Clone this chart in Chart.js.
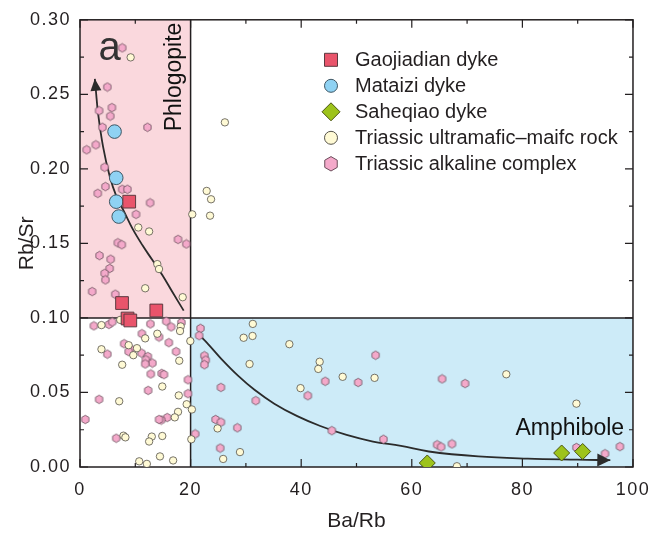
<!DOCTYPE html>
<html>
<head>
<meta charset="utf-8">
<script src="https://cdn.jsdelivr.net/npm/chart.js@4.4.1/dist/chart.umd.min.js"></script>
<style>
  html, body { margin: 0; padding: 0; background: #fff; }
</style>
</head>
<body>
<canvas id="chart" width="660" height="543"></canvas>
<script>
'use strict';

// ── Data (Ba/Rb, Rb/Sr) ──────────────────────────────────────────────────
const GAOJIADIAN = [[8.9,0.178],[7.6,0.110],[13.8,0.105],[8.6,0.0996],[9.1,0.0983]];
const MATAIZI    = [[6.25,0.225],[6.55,0.194],[6.55,0.178],[7.0,0.168]];
const SAHEQIAO   = [[62.8,0.0027],[87.1,0.0094],[90.9,0.0104]];

const ULTRAMAFIC = [
  [9.16,0.2748],[20.3,0.1695],[10.54,0.1607],[12.5,0.158],[13.98,0.1361],[14.29,0.1328],
  [11.79,0.1199],[18.57,0.1139],[26.2,0.2312],[22.91,0.1852],[23.7,0.1796],[23.52,0.1686],
  [3.88,0.0952],[7.27,0.0987],[18.21,0.0943],[18.09,0.0912],[11.79,0.0863],[13.98,0.0894],
  [19.95,0.0845],[8.8,0.0817],[10.3,0.0797],[3.88,0.079],[9.64,0.075],[17.95,0.0713],
  [7.63,0.0686],[14.88,0.054],[17.86,0.048],[7.09,0.0441],[19.29,0.0421],[20.23,0.0386],
  [17.73,0.037],[17.14,0.0333],[7.86,0.021],[8.21,0.0199],[12.98,0.0204],[12.5,0.0171],
  [14.88,0.0208],[20.13,0.0186],[14.46,0.0071],[16.84,0.0044],[10.71,0.0038],[12.09,0.0021],
  [31.25,0.096],[29.59,0.0867],[31.2,0.0879],[37.86,0.0824],[30.66,0.0691],[43.34,0.0706],
  [43.09,0.0658],[47.5,0.0605],[53.27,0.0598],[39.88,0.0529],[24.88,0.0259],[28.93,0.01],
  [25.89,0.0054],[77.09,0.0622],[89.77,0.0425],[68.16,0.0005]
];

const ALKALINE = [
  [7.63,0.2812],[4.95,0.2549],[5.77,0.2411],[3.45,0.239],[5.48,0.2354],[4.05,0.2279],
  [12.2,0.2279],[2.86,0.2161],[1.2,0.2128],[4.46,0.2011],[4.59,0.1881],[3.21,0.1836],
  [7.63,0.1863],[8.57,0.1863],[12.68,0.1772],[10.13,0.1695],[17.73,0.1527],[19.23,0.1496],
  [6.84,0.1504],[7.55,0.1491],[3.52,0.1418],[5.54,0.1394],[5.36,0.1332],[4.46,0.1299],
  [4.59,0.1255],[2.2,0.1177],[6.38,0.1159],
  [2.5,0.0947],[5.23,0.0956],[5.84,0.0973],[12.73,0.096],[15.59,0.0978],[16.48,0.094],
  [18.34,0.0969],[11.2,0.0894],[14.29,0.0872],[16.07,0.0834],[7.98,0.0827],[9.23,0.079],
  [4.95,0.0757],[8.8,0.0774],[11.13,0.0764],[17.38,0.0774],[12.27,0.0741],[11.91,0.0719],
  [13.09,0.0697],[11.79,0.0691],[12.8,0.0624],[14.77,0.0628],[15.18,0.062],[19.52,0.0585],
  [12.32,0.0514],[19.52,0.0492],[3.45,0.0454],[15.77,0.0332],[14.7,0.0315],[14.29,0.0319],
  [0.95,0.0319],[6.55,0.0193],
  [20.84,0.0222],[21.79,0.093],[21.55,0.0881],[22.5,0.0746],[22.73,0.0717],[22.5,0.0686],
  [53.45,0.075],[44.34,0.0575],[50.3,0.0567],[41.2,0.0478],[25.48,0.0534],[31.79,0.0445],
  [24.52,0.0319],[25.48,0.0301],[28.45,0.0263],[45.54,0.0244],[54.88,0.0186],[25.36,0.0127],
  [65.48,0.0591],[69.64,0.056],[64.59,0.0149],[65.3,0.0135],[67.27,0.0155],[89.77,0.0131],
  [94.95,0.0089],[97.63,0.0137]
];

// trend arrows (last pair = arrow tip)
const PHLOGOPITE_TREND = [
  [18.75,0.1049],[16.66,0.1177],[14.88,0.1288],[13.09,0.1388],[11.3,0.1487],[9.52,0.1597],
  [8.04,0.1708],[6.55,0.1819],[5.36,0.1952],[4.16,0.2151],[3.27,0.2372],[2.86,0.2531],[2.68,0.2604]
];
const AMPHIBOLE_TREND = [
  [21.43,0.089],[23.21,0.0823],[25.59,0.0724],[28.57,0.0613],[31.55,0.0518],[35.13,0.0425],
  [39.29,0.0341],[43.45,0.0275],[48.21,0.0215],[52.98,0.0171],[58.04,0.0142],[63.09,0.0104],
  [72.02,0.0071],[80.95,0.0056],[89.88,0.0049],[93.6,0.0047],[95.9,0.0046]
];

// fields and axis ticks
const SPLIT_X = 20, SPLIT_Y = 0.10;
const X_MAJOR = [0, 20, 40, 60, 80, 100];
const X_MINOR = [10, 30, 50, 70, 90];
const Y_MAJOR = [0, 0.05, 0.10, 0.15, 0.20, 0.25, 0.30];
const Y_MINOR = [0.025, 0.075, 0.125, 0.175, 0.225, 0.275];

// ── Style ────────────────────────────────────────────────────────────────
const FONT  = '"Liberation Sans", Arial, Helvetica, sans-serif';
const INK   = '#231f20';
const PINK_FIELD = '#fad8dd';
const BLUE_FIELD = '#cdebf8';

const COL = {
  red:    ['#e9546b', '#5b3a40'],
  blue:   ['#8fd2f3', '#3f5663'],
  green:  ['#9dc31b', '#4b5512'],
  yellow: ['#fffad5', '#55524a'],
  pink:   ['#f4a9ca', '#6a4c5a']
};

function el(id) { return document.getElementById(id); }
const pts = arr => arr.map(([x, y]) => ({ x, y }));

function hexPath(g, cx, cy, r) {
  g.beginPath();
  for (let k = 0; k < 6; k++) {
    const a = -Math.PI / 2 + k * Math.PI / 3;
    const X = cx + r * Math.cos(a), Y = cy + r * Math.sin(a);
    k ? g.lineTo(X, Y) : g.moveTo(X, Y);
  }
  g.closePath();
}

function hexImage(r, fill, stroke) {
  const c = document.createElement('canvas');
  const s = Math.ceil(r * 2 + 2);
  c.width = s; c.height = s;
  const g = c.getContext('2d');
  hexPath(g, s / 2, s / 2, r);
  g.fillStyle = fill; g.fill();
  g.lineWidth = 0.8; g.strokeStyle = stroke; g.stroke();
  return c;
}

// ── Decorations plugin ───────────────────────────────────────────────────
function arrowHead(ctx, from, to, len, half) {
  const a = Math.atan2(to.y - from.y, to.x - from.x);
  const bx = to.x - len * Math.cos(a), by = to.y - len * Math.sin(a);
  ctx.beginPath();
  ctx.moveTo(to.x, to.y);
  ctx.lineTo(bx + half * Math.sin(a), by - half * Math.cos(a));
  ctx.lineTo(bx - half * Math.sin(a), by + half * Math.cos(a));
  ctx.closePath();
  ctx.fill();
}

function legendMarker(ctx, kind, x, y) {
  const [fill, stroke] = COL[kind];
  ctx.beginPath();
  if (kind === 'red') ctx.rect(x - 6.5, y - 6.5, 13, 13);
  else if (kind === 'green') {
    ctx.moveTo(x, y - 9); ctx.lineTo(x + 9, y); ctx.lineTo(x, y + 9); ctx.lineTo(x - 9, y); ctx.closePath();
  } else if (kind === 'pink') hexPath(ctx, x, y, 7.2);
  else ctx.arc(x, y, 6.5, 0, Math.PI * 2);
  ctx.fillStyle = fill; ctx.fill();
  ctx.lineWidth = 1; ctx.strokeStyle = stroke; ctx.stroke();
}

const decorations = {
  id: 'decorations',
  beforeDraw(chart) { chart.ctx.letterSpacing = '1.5px'; },
  beforeDatasetsDraw(chart) {
    const { ctx, chartArea: a, scales: { x, y } } = chart;
    ctx.letterSpacing = '0px';
    const px = v => x.getPixelForValue(v), py = v => y.getPixelForValue(v);
    ctx.save();
    ctx.fillStyle = PINK_FIELD;
    ctx.fillRect(px(0), py(0.30), px(SPLIT_X) - px(0), py(SPLIT_Y) - py(0.30));
    ctx.fillStyle = BLUE_FIELD;
    ctx.fillRect(px(SPLIT_X), py(SPLIT_Y), px(100) - px(SPLIT_X), py(0) - py(SPLIT_Y));

    ctx.strokeStyle = INK; ctx.lineWidth = 1.5;
    ctx.beginPath();
    ctx.moveTo(px(SPLIT_X), py(0)); ctx.lineTo(px(SPLIT_X), py(0.30));
    ctx.moveTo(px(0), py(SPLIT_Y)); ctx.lineTo(px(100), py(SPLIT_Y));
    ctx.stroke();
    ctx.strokeRect(a.left, a.top, a.width, a.height);

    // inward ticks on all four sides
    ctx.lineWidth = 1.2;
    ctx.beginPath();
    const xt = (v, len) => {
      ctx.moveTo(px(v), a.bottom); ctx.lineTo(px(v), a.bottom - len);
      ctx.moveTo(px(v), a.top);    ctx.lineTo(px(v), a.top + len);
    };
    const yt = (v, len) => {
      ctx.moveTo(a.left, py(v));  ctx.lineTo(a.left + len, py(v));
      ctx.moveTo(a.right, py(v)); ctx.lineTo(a.right - len, py(v));
    };
    X_MAJOR.forEach(v => xt(v, 8)); X_MINOR.forEach(v => xt(v, 4));
    Y_MAJOR.forEach(v => yt(v, 8)); Y_MINOR.forEach(v => yt(v, 4));
    ctx.stroke();
    ctx.restore();
  },
  afterDatasetsDraw(chart) {
    const { ctx, scales: { x, y } } = chart;
    ctx.save();
    ctx.fillStyle = '#2b2b2b';
    [[PHLOGOPITE_TREND, 12, 5.5], [AMPHIBOLE_TREND, 13, 6.5]].forEach(([tr, len, half]) => {
      const n = tr.length;
      const from = { x: x.getPixelForValue(tr[n - 3][0]), y: y.getPixelForValue(tr[n - 3][1]) };
      const to   = { x: x.getPixelForValue(tr[n - 1][0]), y: y.getPixelForValue(tr[n - 1][1]) };
      arrowHead(ctx, from, to, len, half);
    });
    ctx.restore();
  },
  afterDraw(chart) {
    const { ctx, chartArea: a, scales: { x, y } } = chart;
    ctx.save();
    ctx.letterSpacing = '0px';

    // panel letter and field names
    ctx.fillStyle = '#333';
    ctx.font = `40px ${FONT}`;
    ctx.textAlign = 'center'; ctx.textBaseline = 'alphabetic';
    ctx.fillText('a', x.getPixelForValue(5.36), y.getPixelForValue(0.2733));

    ctx.fillStyle = '#111';
    ctx.font = `23px ${FONT}`;
    ctx.textAlign = 'left';
    ctx.fillText('Amphibole', x.getPixelForValue(78.75), y.getPixelForValue(0.0215));
    ctx.save();
    ctx.translate(x.getPixelForValue(18.34), y.getPixelForValue(0.2252));
    ctx.rotate(-Math.PI / 2);
    ctx.fillText('Phlogopite', 0, 0);
    ctx.restore();

    // legend
    ctx.font = `20px ${FONT}`;
    ctx.fillStyle = INK;
    ctx.textBaseline = 'middle';
    const lx = a.left + 251, ly = a.top + 40;
    chart.data.datasets.filter(d => d.marker).forEach((d, i) => {
      legendMarker(ctx, d.marker, lx, ly + i * 26);
      ctx.fillStyle = INK;
      ctx.fillText(d.label, lx + 24, ly + i * 26 + 1);
    });

    // axis titles
    ctx.font = `21px ${FONT}`;
    ctx.textAlign = 'center';
    ctx.fillText('Ba/Rb', (a.left + a.right) / 2, 521);
    ctx.save();
    ctx.translate(27, (a.top + a.bottom) / 2);
    ctx.rotate(-Math.PI / 2);
    ctx.fillText('Rb/Sr', 0, 0);
    ctx.restore();
    ctx.restore();
  }
};

// ── Chart ────────────────────────────────────────────────────────────────
const scatter = (label, data, marker, style, radius, extra = {}) => ({
  label, data: pts(data), marker,
  pointStyle: style, pointRadius: radius, pointHoverRadius: radius,
  backgroundColor: COL[marker][0], borderColor: COL[marker][1], borderWidth: 1,
  ...extra
});

const trend = data => ({
  data: pts(data), showLine: true, pointRadius: 0, tension: 0.4,
  borderColor: '#2b2b2b', borderWidth: 1.8, fill: false
});

const tickFont = { family: FONT, size: 18 };

new Chart(el('chart').getContext('2d'), {
  type: 'scatter',
  data: {
    datasets: [
      scatter('Gaojiadian dyke', GAOJIADIAN, 'red', 'rect', 9),
      scatter('Mataizi dyke', MATAIZI, 'blue', 'circle', 6.8),
      scatter('Saheqiao dyke', SAHEQIAO, 'green', 'rectRot', 8),
      scatter('Triassic ultramafic–maifc rock', ULTRAMAFIC, 'yellow', 'circle', 3.7, { borderWidth: 0.8 }),
      scatter('Triassic alkaline complex', ALKALINE, 'pink', hexImage(4.2, COL.pink[0], COL.pink[1]), 4.2),
      trend(PHLOGOPITE_TREND),
      trend(AMPHIBOLE_TREND)
    ]
  },
  options: {
    responsive: false,
    animation: false,
    layout: { padding: { top: 15, right: 20, left: 0, bottom: 0 } },
    plugins: { legend: { display: false }, tooltip: { enabled: false } },
    scales: {
      x: {
        type: 'linear', min: 0, max: 100,
        grid: { display: false, drawTicks: false }, border: { display: false },
        ticks: { stepSize: 20, padding: 12, color: INK, font: tickFont, maxRotation: 0, autoSkip: false },
        afterFit(s) { s.height = 76; }
      },
      y: {
        type: 'linear', min: 0, max: 0.30,
        grid: { display: false, drawTicks: false }, border: { display: false },
        ticks: { stepSize: 0.05, padding: 9, color: INK, font: tickFont, callback: v => v.toFixed(2) },
        afterFit(s) { s.width = 80; }
      }
    }
  },
  plugins: [decorations]
});
</script>
</body>
</html>
